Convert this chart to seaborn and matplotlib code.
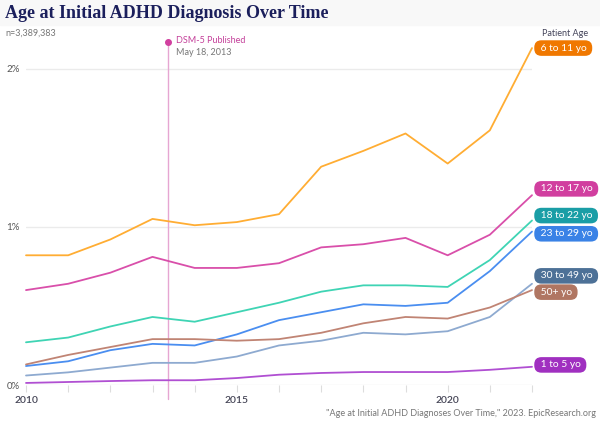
import pandas as pd
import numpy as np
import matplotlib.pyplot as plt
import seaborn as sns
from matplotlib.patches import Rectangle

years = list(range(2010, 2023))

age_groups = ['6 to 11 yo', '12 to 17 yo', '18 to 22 yo', '23 to 29 yo',
              '30 to 49 yo', '50+ yo', '1 to 5 yo']

# share of patients with an initial ADHD diagnosis, in percent
age_6_11 = [0.82, 0.82, 0.92, 1.05, 1.01, 1.03, 1.08, 1.38, 1.48, 1.59, 1.40, 1.61, 2.13]
age_12_17 = [0.60, 0.64, 0.71, 0.81, 0.74, 0.74, 0.77, 0.87, 0.89, 0.93, 0.82, 0.95, 1.20]
age_18_22 = [0.27, 0.30, 0.37, 0.43, 0.40, 0.46, 0.52, 0.59, 0.63, 0.63, 0.62, 0.79, 1.04]
age_23_29 = [0.12, 0.15, 0.22, 0.26, 0.25, 0.32, 0.41, 0.46, 0.51, 0.50, 0.52, 0.72, 0.97]
age_30_49 = [0.06, 0.08, 0.11, 0.14, 0.14, 0.18, 0.25, 0.28, 0.33, 0.32, 0.34, 0.43, 0.64]
age_50_plus = [0.13, 0.19, 0.24, 0.29, 0.29, 0.28, 0.29, 0.33, 0.39, 0.43, 0.42, 0.49, 0.60]
age_1_5 = [0.013, 0.019, 0.025, 0.03, 0.03, 0.044, 0.065, 0.076, 0.082, 0.082, 0.082, 0.096, 0.115]

series = [age_6_11, age_12_17, age_18_22, age_23_29, age_30_49, age_50_plus, age_1_5]

line_colors = ['#ffad33', '#d94faa', '#3fd4b4', '#4a8ef0', '#8eaad0', '#c08474', '#b04fd2']
box_colors = ['#f07800', '#d13f9f', '#1a9ea6', '#3a82e6', '#4d7197', '#b07662', '#a030c0']
# vertical spot for each label box (spread so they do not overlap)
label_y = [2.13, 1.24, 1.071, 0.956, 0.69, 0.587, 0.127]

dsm5_date = 2013 + 137 / 365

df = pd.DataFrame({
    'year': np.tile(years, len(age_groups)),
    'age': np.repeat(age_groups, len(years)),
    'pct': np.concatenate(series),
})

sns.set_style('white')
plt.rcParams['font.family'] = ['Lato', 'DejaVu Sans']

fig = plt.figure(figsize=(6, 4.23), dpi=100)
fig.patches.append(Rectangle((0, 1 - 25 / 423), 1, 25 / 423, transform=fig.transFigure,
                             color='#f8f8f8', zorder=0))
ax = fig.add_axes([26 / 600, 38 / 423, 506 / 600, 348 / 423])

sns.lineplot(data=df, x='year', y='pct', hue='age', palette=dict(zip(age_groups, line_colors)),
             hue_order=age_groups, linewidth=1.3, legend=False, ax=ax)
for line in ax.lines:
    line.set_clip_on(False)

ax.set_xlim(2010, 2022)
ax.set_ylim(0, 2.2)
ax.set_xlabel('')
ax.set_ylabel('')

for v in [0, 1, 2]:
    ax.axhline(v, color='#ebebeb', linewidth=1, zorder=0)
for s in ax.spines.values():
    s.set_visible(False)

ax.set_xticks(years)
ax.set_xticklabels([str(y) if y % 5 == 0 else '' for y in years], fontsize=7.5,
                   color='#444455', fontweight='semibold')
ax.tick_params(axis='x', length=5, color='#dddddd', pad=3, width=0.8, bottom=True)
ax.set_yticks([0, 1, 2])
ax.set_yticklabels(['0%', '1%', '2%'], fontsize=7, color='#555555')
ax.tick_params(axis='y', length=0, pad=-1)
for lbl in ax.get_yticklabels():
    lbl.set_horizontalalignment('left')
    lbl.set_x(-21 / 506)

# DSM-5 marker
ax.plot([dsm5_date, dsm5_date], [-0.09, 2.17], color='#e6a6d2', linewidth=1, clip_on=False, zorder=1)
ax.plot(dsm5_date, 2.17, 'o', color='#d13f9f', markersize=4, clip_on=False)
ax.text(dsm5_date + 0.18, 2.175, 'DSM-5 Published', fontsize=6.5, color='#c4409a', va='center')
ax.text(dsm5_date + 0.18, 2.105, 'May 18, 2013', fontsize=6.5, color='#777777', va='center')

# end labels
for name, color, yv in zip(age_groups, box_colors, label_y):
    ax.annotate(' ' + name + ' ', xy=(2022, yv), xytext=(4, 0), textcoords='offset points',
                fontsize=7.4, color='white', va='center', ha='left', annotation_clip=False,
                bbox=dict(boxstyle='round,pad=0.32,rounding_size=0.7', fc=color, ec='none'))
ax.annotate('Patient Age', xy=(2022, 2.225), xytext=(7.5, 0), textcoords='offset points',
            fontsize=6.5, color='#44445a', va='center', ha='left', annotation_clip=False)

fig.text(5 / 600, 1 - 13 / 423, 'Age at Initial ADHD Diagnosis Over Time', fontsize=13,
         fontweight='bold', family='Liberation Serif', color='#1b1f5c', va='center')
fig.text(5 / 600, 1 - 33 / 423, 'n=3,389,383', fontsize=6.5, color='#777777', va='center')
fig.text(596 / 600, 5 / 423, '"Age at Initial ADHD Diagnoses Over Time," 2023. EpicResearch.org',
         fontsize=6.5, color='#777777', ha='right', va='bottom')

fig.savefig('out.png', dpi=100)
